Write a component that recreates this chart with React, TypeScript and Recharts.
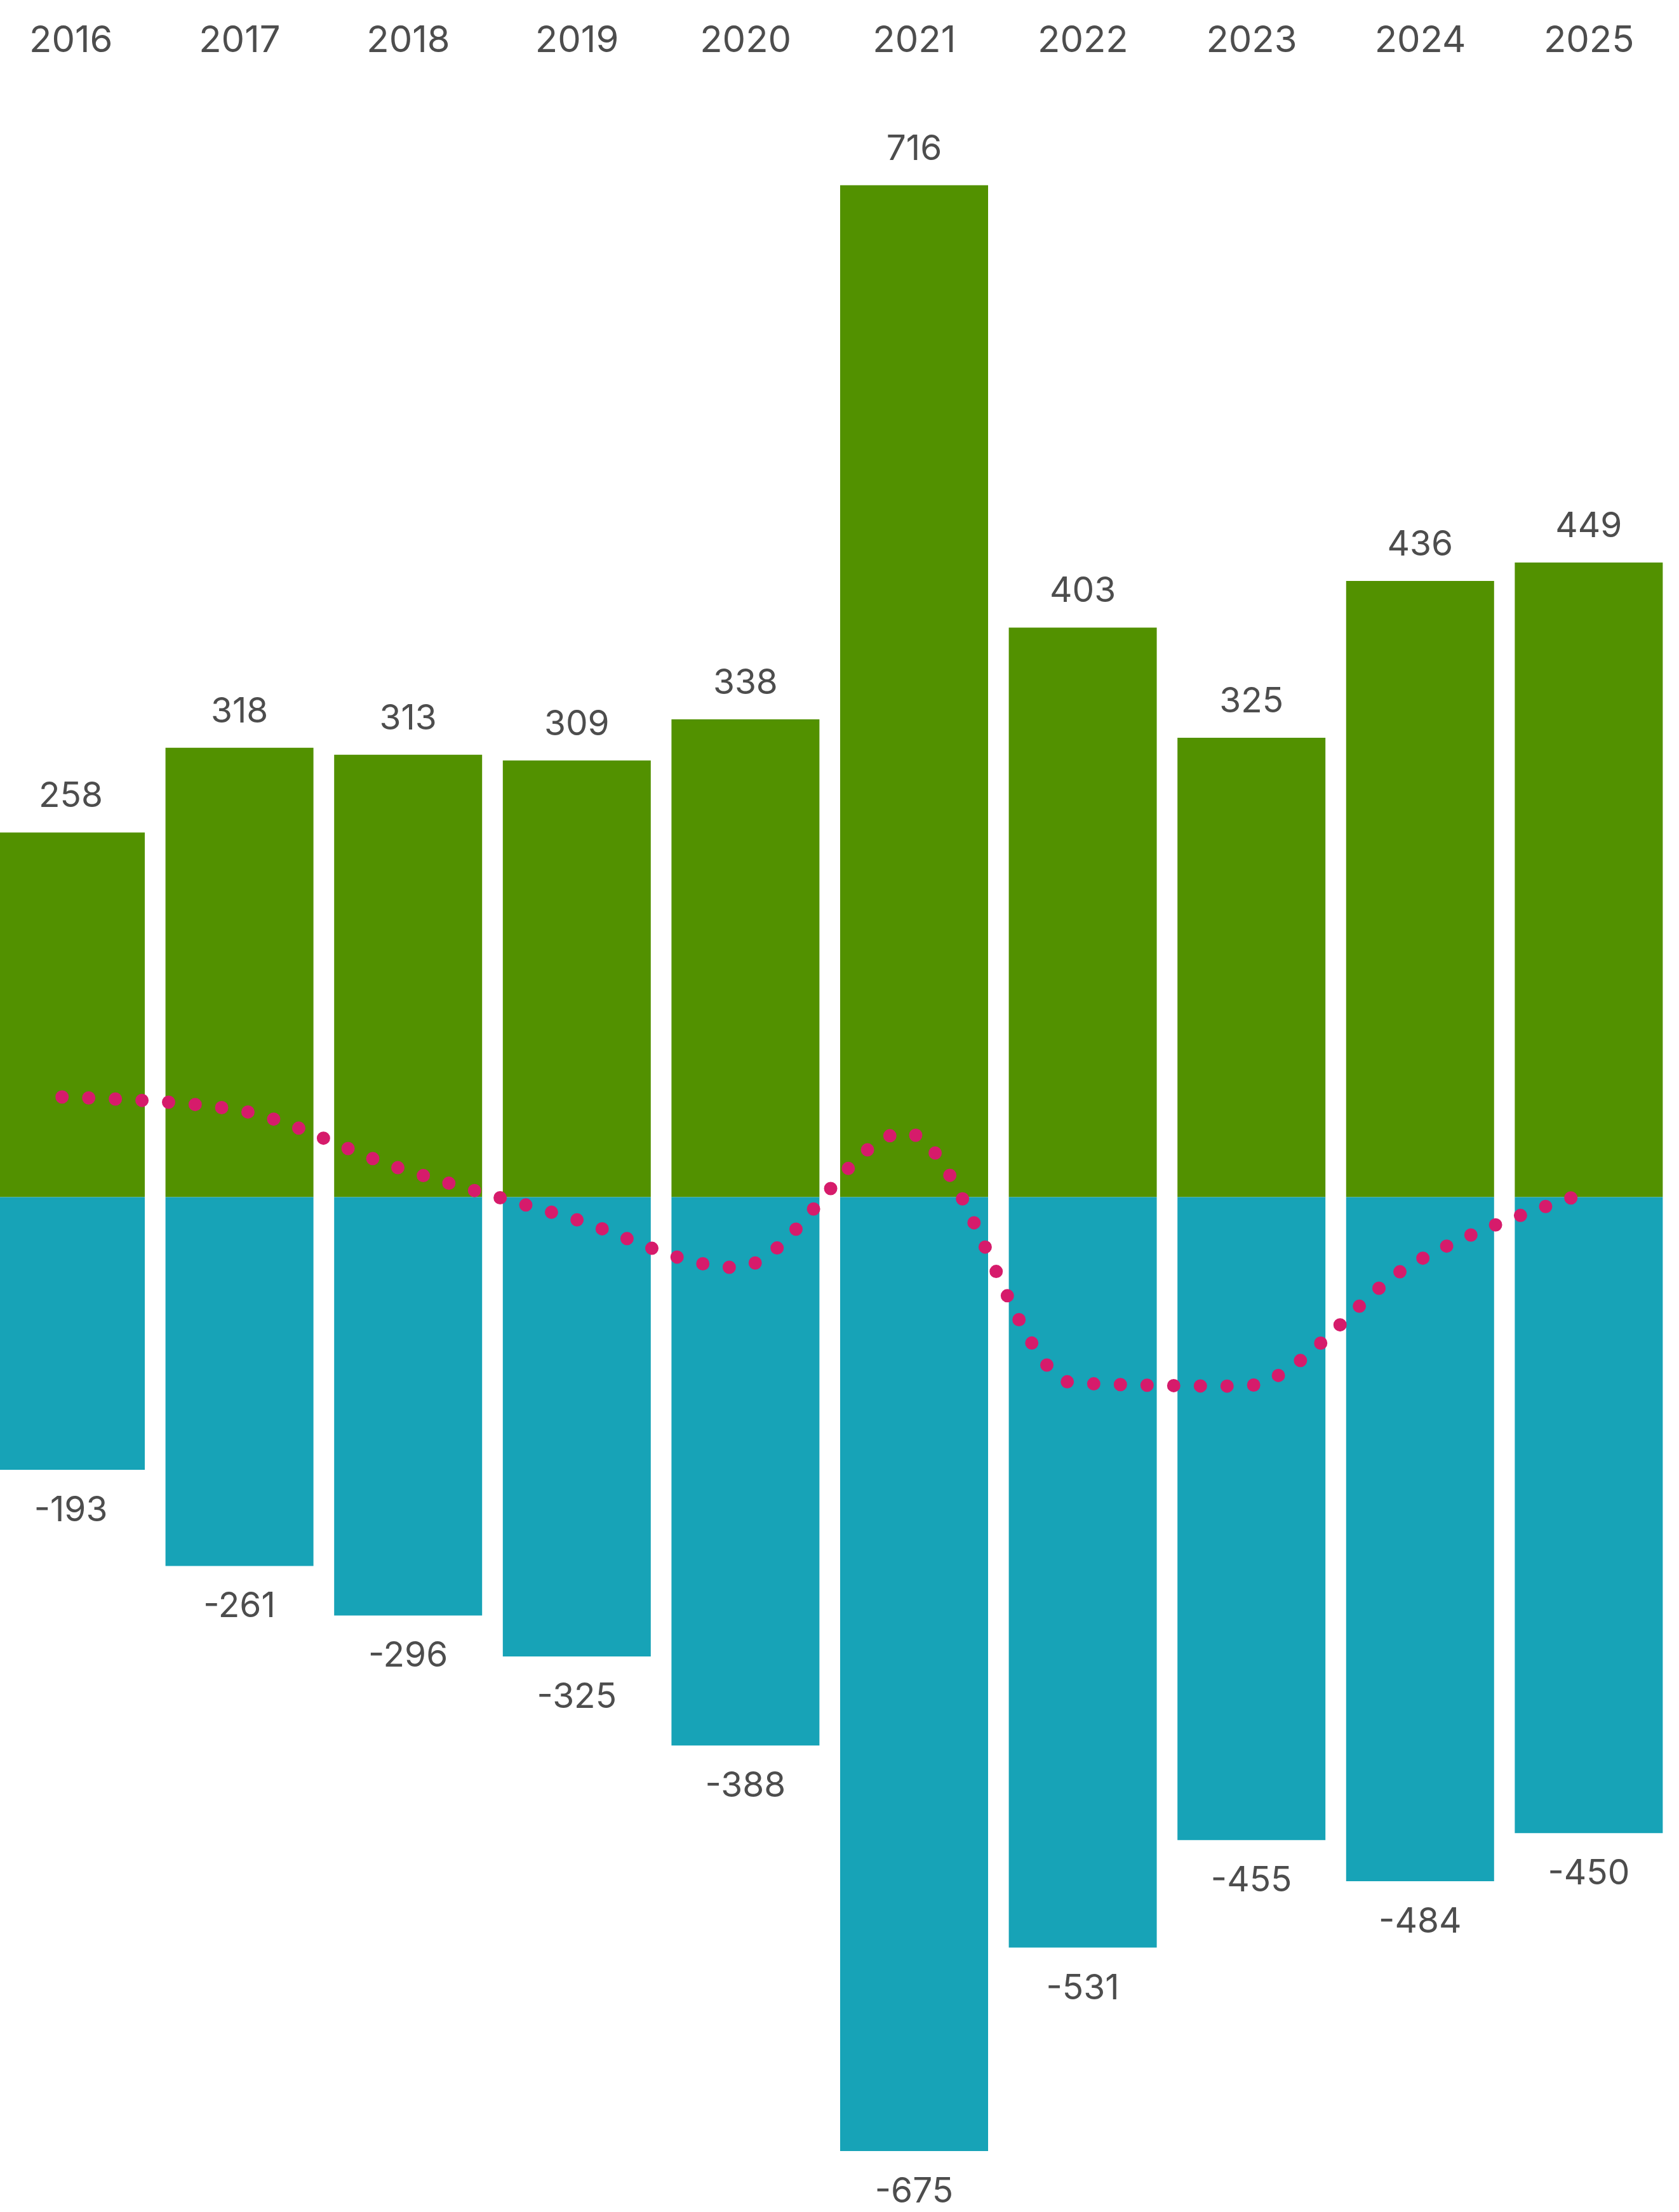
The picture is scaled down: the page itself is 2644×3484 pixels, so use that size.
import React from 'react';
import {Bar, ComposedChart, LabelList, Line, XAxis, YAxis} from 'recharts';

const years = ['2016', '2017', '2018', '2019', '2020', '2021', '2022', '2023', '2024', '2025'];
const gains = [258, 318, 313, 309, 338, 716, 403, 325, 436, 449];
const losses = [-193, -261, -296, -325, -388, -675, -531, -455, -484, -450];
const net = [65, 57, 17, -16, -50, 41, -128, -130, -48, -1];

const GREEN = '#529100';
const TEAL = '#17a3b7';
const PINK = '#d61b6b';
const TEXT = '#4d4d4d';
const FONT = 'Inter, "Noto Sans", sans-serif';

const data = years.map((year, i) => ({
    year,
    idx: i,
    gain: gains[i],
    loss: losses[i],
    net: net[i],
}));

const YearTick = (props: any) => (
    <text x={props.x} y={82} textAnchor="middle" fontSize={58} fill={TEXT} fontFamily={FONT}>
        {props.payload.value}
    </text>
);

const ValueLabel = (props: any) => {
    const {x, y, width, height, value} = props;
    const top = Math.min(y, y + height);
    const bottom = Math.max(y, y + height);
    const cx = x + width / 2;
    const ty = value >= 0 ? top - 40 : bottom + 81;
    return (
        <text x={cx} y={ty} textAnchor="middle" fontSize={55} fill={TEXT} fontFamily={FONT}>
            {value}
        </text>
    );
};

export default function App() {
    return (
        <div style={{position: 'absolute', left: -21, top: 0}}>
            <ComposedChart
                width={2656}
                height={3484}
                data={data}
                stackOffset="sign"
                margin={{top: 44.7, right: 0, left: 0, bottom: 40.3}}
            >
                <XAxis
                    xAxisId="cat"
                    dataKey="year"
                    orientation="top"
                    axisLine={false}
                    tickLine={false}
                    interval={0}
                    height={60}
                    tick={<YearTick />}
                />
                <XAxis
                    xAxisId="num"
                    dataKey="idx"
                    type="number"
                    domain={[-0.447, 9.553]}
                    allowDataOverflow
                    hide
                />
                <YAxis yAxisId="main" domain={[-700, 800]} allowDataOverflow hide />
                <YAxis yAxisId="line" domain={[-669.6, 759.8]} allowDataOverflow hide />
                <Bar dataKey="gain" stackId="s" xAxisId="cat" yAxisId="main" fill={GREEN} barSize={233} isAnimationActive={false}>
                    <LabelList dataKey="gain" content={<ValueLabel />} />
                </Bar>
                <Bar dataKey="loss" stackId="s" xAxisId="cat" yAxisId="main" fill={TEAL} barSize={233} isAnimationActive={false}>
                    <LabelList dataKey="loss" content={<ValueLabel />} />
                </Bar>
                <Line
                    type="monotone"
                    dataKey="net"
                    xAxisId="num"
                    yAxisId="line"
                    stroke={PINK}
                    strokeWidth={21}
                    strokeLinecap="round"
                    strokeDasharray="0 42"
                    dot={false}
                    activeDot={false}
                    isAnimationActive={false}
                />
            </ComposedChart>
        </div>
    );
}
